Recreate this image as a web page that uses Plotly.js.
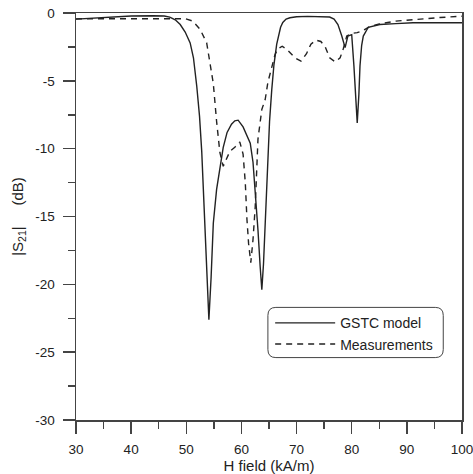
<!DOCTYPE html>
<html>
<head>
<meta charset="utf-8">
<script src="https://cdn.plot.ly/plotly-3.0.1.min.js"></script>
<style>html,body{margin:0;padding:0;background:#fff;}#chart{width:473px;height:474px;}</style>
</head>
<body>
<div id="chart"></div>
<script>
// GSTC model (solid)
var gstcX = [30, 35, 40, 44, 46, 47, 48, 48.9, 49.8, 50.7, 51.3, 51.9, 52.4, 52.8, 53.4, 53.8, 54.1, 54.5, 54.9, 55.5, 56.1, 56.7, 57.4, 58.2, 58.8, 59.4, 60.3, 61, 61.6, 62.1, 62.5, 63, 63.4, 63.7, 64, 64.3, 64.6, 65.1, 65.5, 65.9, 66.4, 67.1, 67.5, 68.1, 68.8, 70, 72, 74, 76, 76.8, 77.5, 78.2, 78.8, 79.3, 80, 80.4, 80.7, 81, 81.3, 81.5, 81.8, 82.1, 83, 85.1, 88, 91.1, 95, 100];
var gstcY = [-0.45, -0.33, -0.22, -0.2, -0.22, -0.3, -0.5, -0.85, -1.4, -2.2, -3.3, -5.4, -7.6, -10.2, -16, -20, -22.6, -19.5, -15.5, -13, -11.3, -9.9, -8.8, -8.2, -7.95, -7.9, -8.4, -9.0, -9.6, -11, -13, -16, -18.7, -20.4, -18.5, -15.5, -12.5, -8, -5.65, -3.8, -2.3, -1.05, -0.7, -0.45, -0.35, -0.28, -0.25, -0.25, -0.3, -0.45, -0.85, -1.7, -2.55, -1.7, -1.6, -3.9, -6.2, -8.1, -6.0, -3.9, -2.4, -1.7, -1.05, -0.85, -0.78, -0.72, -0.72, -0.72];

// Measurements (dashed)
var measX = [30, 35, 40, 45, 49.8, 51.2, 52.5, 53.7, 54.3, 54.9, 55.5, 56.1, 56.7, 57.3, 57.9, 58.8, 59.7, 60.3, 60.7, 61, 61.3, 61.7, 62.1, 62.5, 63, 63.7, 64.3, 64.8, 65.5, 66.1, 66.6, 67.4, 68.3, 69.7, 70.8, 71.8, 72.6, 73.5, 74.4, 75.2, 76, 77, 77.9, 78.5, 79.1, 80, 81, 82, 83.3, 85, 88, 92, 96, 100];
var measY = [-0.43, -0.43, -0.42, -0.4, -0.42, -0.6, -1.2, -2.2, -3.6, -5.2, -8.0, -10.3, -11.3, -10.8, -10.2, -9.9, -9.5, -10.4, -12.5, -15.2, -17, -18.4, -16.7, -14.3, -9.3, -7.1, -6.4, -5.1, -3.9, -3.05, -2.65, -2.45, -2.7, -3.3, -3.55, -3.0, -2.3, -2.0, -2.1, -2.5, -3.3, -3.6, -3.3, -2.6, -1.7, -1.5, -1.45, -1.3, -1.0, -0.8, -0.6, -0.45, -0.33, -0.24];

var seriesNames = ['GSTC model', 'Measurements'];
var xTickVals = [30, 40, 50, 60, 70, 80, 90, 100];
var xTickText = ['30', '40', '50', '60', '70', '80', '90', '100'];
var yTickVals = [0, -5, -10, -15, -20, -25, -30];
var yTickText = ['0', '-5', '-10', '-15', '-20', '-25', '-30'];

var ink = '#222';
var axisColor = '#444';
var fontFam = '"Liberation Sans", Arial, Helvetica, sans-serif';

var traces = [
  {x: gstcX, y: gstcY, mode: 'lines', name: seriesNames[0], line: {color: ink, width: 1.4}},
  {x: measX, y: measY, mode: 'lines', name: seriesNames[1], line: {color: ink, width: 1.4, dash: '6px,5px'}}
];

var rx = 1.45, ry = 0.59;
var bx0 = 64.8, bx1 = 96.6, by0 = -25.4, by1 = -21.7;
var boxPath = 'M' + (bx0 + rx) + ',' + by1 + ' L' + (bx1 - rx) + ',' + by1 +
  ' Q' + bx1 + ',' + by1 + ' ' + bx1 + ',' + (by1 - ry) +
  ' L' + bx1 + ',' + (by0 + ry) + ' Q' + bx1 + ',' + by0 + ' ' + (bx1 - rx) + ',' + by0 +
  ' L' + (bx0 + rx) + ',' + by0 + ' Q' + bx0 + ',' + by0 + ' ' + bx0 + ',' + (by0 + ry) +
  ' L' + bx0 + ',' + (by1 - ry) + ' Q' + bx0 + ',' + by1 + ' ' + (bx0 + rx) + ',' + by1 + ' Z';

var layout = {
  width: 473, height: 474,
  margin: {l: 76, r: 11, t: 13, b: 54, pad: 0},
  paper_bgcolor: '#fff', plot_bgcolor: '#fff',
  font: {family: fontFam, color: ink, size: 13},
  showlegend: true,
  legend: {
    x: 0.503, y: 0.277, xanchor: 'left', yanchor: 'top',
    bgcolor: 'rgba(0,0,0,0)', borderwidth: 0,
    font: {family: fontFam, size: 14, color: ink},
    tracegroupgap: 0, itemwidth: 60
  },
  xaxis: {
    range: [30, 100], showgrid: false, zeroline: false,
    showline: true, linecolor: axisColor, linewidth: 1.5, mirror: true,
    ticks: 'outside', ticklen: 12, tickwidth: 1.5, tickcolor: axisColor,
    tickvals: xTickVals, ticktext: xTickText, ticklabelstandoff: 4,
    ticklabeloverflow: 'allow',
    tickfont: {size: 13.5, color: ink},
    minor: {dtick: 5, ticks: 'outside', ticklen: 7, tickwidth: 1.5, tickcolor: axisColor, showgrid: false},
    title: {text: 'H field (kA/m)', font: {size: 15, color: ink}, standoff: 0}
  },
  yaxis: {
    range: [-30, 0], showgrid: false, zeroline: false,
    showline: true, linecolor: axisColor, linewidth: 1.5, mirror: true,
    ticks: 'outside', ticklen: 12, tickwidth: 1.5, tickcolor: axisColor,
    tickvals: yTickVals, ticktext: yTickText, ticklabelstandoff: 5,
    tickfont: {size: 13.5, color: ink},
    minor: {dtick: 2.5, ticks: 'outside', ticklen: 7, tickwidth: 1.5, tickcolor: axisColor, showgrid: false},
    title: {text: '|S<sub>21</sub>|\u00A0\u00A0\u00A0\u00A0\u00A0(dB)', font: {size: 15, color: ink}, standoff: 8}
  },
  shapes: [
    {type: 'path', xref: 'x', yref: 'y', path: boxPath, line: {color: axisColor, width: 1}, fillcolor: 'rgba(0,0,0,0)'}
  ]
};

Plotly.newPlot('chart', traces, layout, {staticPlot: true, displayModeBar: false});
</script>
</body>
</html>
